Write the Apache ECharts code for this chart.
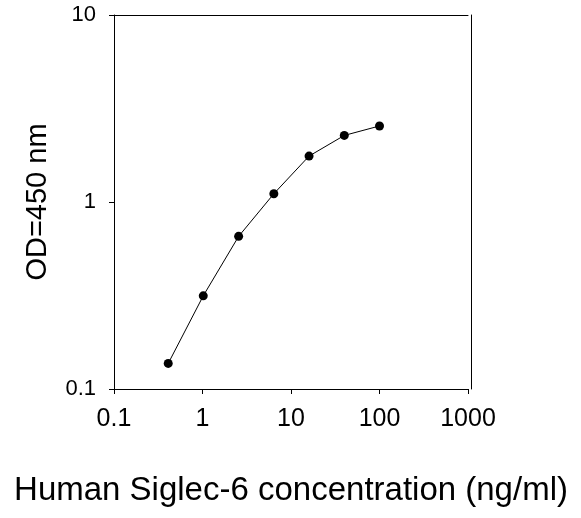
<!DOCTYPE html>
<html>
<head>
<meta charset="utf-8">
<script src="https://cdn.jsdelivr.net/npm/echarts@6/dist/echarts.min.js"></script>
<style>
  html, body { margin: 0; padding: 0; background: #fff; }
  #main { width: 581px; height: 518px; }
</style>
</head>
<body>
<div id="main"></div>
<script>
// concentration (ng/ml), 2.5-fold dilutions
var concentration = [0.41, 1.02, 2.56, 6.4, 16, 40, 100];
// OD at 450 nm
var odValues = [0.137, 0.315, 0.655, 1.107, 1.76, 2.27, 2.55];
var xTicks = ['0.1', '1', '10', '100', '1000'];
var yTicks = ['0.1', '1', '10'];

var font = 'Arial, "Liberation Sans", sans-serif';
var points = concentration.map(function (c, i) { return [c, odValues[i]]; });

var chart = echarts.init(document.getElementById('main'));
chart.setOption({
  backgroundColor: '#fff',
  animation: false,
  grid: { left: 114, top: 15, width: 354, height: 374 },
  xAxis: [{
    type: 'log', logBase: 10, min: 0.1, max: 1000,
    position: 'bottom',
    name: 'Human Siglec-6 concentration (ng/ml)',
    nameLocation: 'middle', nameGap: 85,
    nameTextStyle: { fontFamily: font, fontSize: 33, color: '#000' },
    axisLine: { show: true, lineStyle: { color: '#000', width: 1 } },
    axisTick: { show: true, length: 5, lineStyle: { color: '#000' } },
    minorTick: { show: false },
    splitLine: { show: false },
    axisLabel: {
      margin: 18, fontFamily: font, fontSize: 25, color: '#000',
      formatter: function (v) {
        var k = Math.round(Math.log(v) / Math.LN10) + 1;
        return xTicks[k] !== undefined ? xTicks[k] : '';
      }
    }
  }, {
    type: 'log', logBase: 10, min: 0.1, max: 1000,
    position: 'top',
    axisLine: { show: true, lineStyle: { color: '#000', width: 1 } },
    axisTick: { show: false }, axisLabel: { show: false }, splitLine: { show: false }
  }],
  yAxis: [{
    type: 'log', logBase: 10, min: 0.1, max: 10,
    position: 'left',
    name: 'OD=450 nm',
    nameLocation: 'middle', nameGap: 62,
    nameTextStyle: { fontFamily: font, fontSize: 29, color: '#000' },
    axisLine: { show: true, lineStyle: { color: '#000', width: 1 } },
    axisTick: { show: true, length: 5, lineStyle: { color: '#000' } },
    minorTick: { show: false },
    splitLine: { show: false },
    axisLabel: {
      margin: 18, fontFamily: font, fontSize: 22, color: '#000',
      formatter: function (v) {
        var k = Math.round(Math.log(v) / Math.LN10) + 1;
        return yTicks[k] !== undefined ? yTicks[k] : '';
      }
    }
  }, {
    type: 'log', logBase: 10, min: 0.1, max: 10,
    position: 'right', offset: 3,
    axisLine: { show: true, lineStyle: { color: '#000', width: 1 } },
    axisTick: { show: false }, axisLabel: { show: false }, splitLine: { show: false }
  }],
  series: [{
    type: 'line',
    data: points,
    symbol: 'circle',
    symbolSize: 9,
    itemStyle: { color: '#000' },
    lineStyle: { color: '#000', width: 1 }
  }]
});
</script>
</body>
</html>
